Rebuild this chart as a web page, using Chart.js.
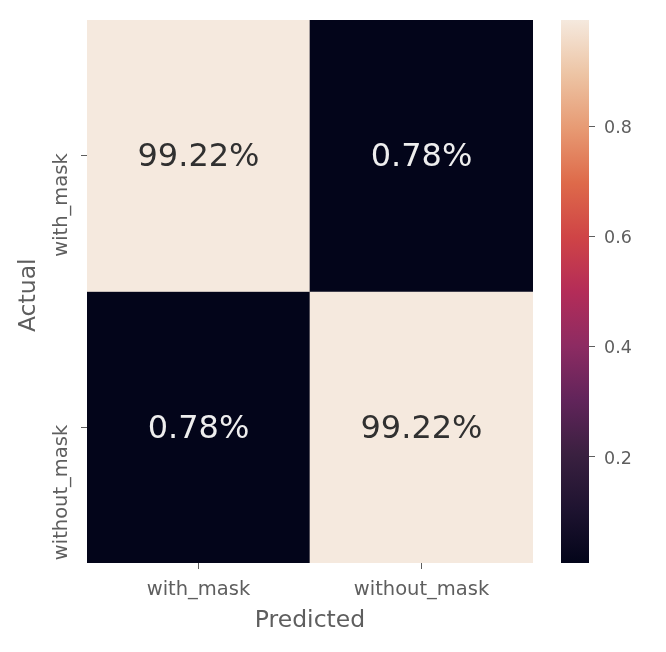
<!DOCTYPE html>
<html>
<head>
<meta charset="utf-8">
<script src="https://cdn.jsdelivr.net/npm/chart.js@4"></script>
<style>
html,body{margin:0;padding:0;background:#fff;width:666px;height:652px;overflow:hidden}
.w{position:absolute;left:0;top:0;width:666px;height:652px}
canvas{filter:blur(0.7px)}
</style>
</head>
<body>
<div class="w"><canvas id="main"></canvas></div>
<div class="w"><canvas id="bar"></canvas></div>
<script>
const predictedLabels = ['with_mask', 'without_mask'];
const actualLabels = ['with_mask', 'without_mask'];
const rowWithMask = [0.9922, 0.0078];
const rowWithoutMask = [0.0078, 0.9922];
const colorbarTicks = [0.2, 0.4, 0.6, 0.8];
const rocketStops = ['#03051a', '#1e1330', '#3a2040', '#61245a', '#8d2b62', '#b42c58', '#cf4446', '#de6a4a', '#e79a73', '#edc4a4', '#f5e9de'];

const rows = [rowWithMask, rowWithoutMask];
const vmin = Math.min(...rows.flat());
const vmax = Math.max(...rows.flat());
const hex = h => [1, 3, 5].map(i => parseInt(h.slice(i, i + 2), 16));
function rocket(v) {
  const t = Math.max(0, Math.min(1, (v - vmin) / (vmax - vmin))) * (rocketStops.length - 1);
  const i = Math.min(Math.floor(t), rocketStops.length - 2);
  const a = hex(rocketStops[i]), b = hex(rocketStops[i + 1]);
  return 'rgb(' + a.map((c, k) => Math.round(c + (b[k] - c) * (t - i))).join(',') + ')';
}
const GREY = '#5e5e5e';
const FF = '"DejaVu Sans"';

const annotate = {
  id: 'annotate',
  afterDatasetsDraw(chart) {
    const { ctx, scales: { x, y } } = chart;
    ctx.save();
    ctx.font = '32px ' + FF;
    ctx.textAlign = 'center';
    ctx.textBaseline = 'middle';
    rows.forEach((row, r) => row.forEach((v, c) => {
      ctx.fillStyle = v > 0.5 ? '#303030' : '#eeeeee';
      ctx.fillText((v * 100).toFixed(2) + '%', x.getPixelForValue(c), y.getPixelForValue(r + 0.5) + 2);
    }));
    ctx.restore();
  }
};

new Chart(document.getElementById('main'), {
  type: 'bar',
  data: {
    labels: predictedLabels,
    datasets: rows.map((row, r) => ({
      label: actualLabels[r],
      data: row.map(() => [r, r + 1]),
      backgroundColor: row.map(rocket),
      barPercentage: 1,
      categoryPercentage: 1,
      borderWidth: 0
    }))
  },
  plugins: [annotate],
  options: {
    responsive: true,
    maintainAspectRatio: false,
    animation: false,
    layout: { padding: { top: 20, right: 133, left: 0, bottom: 0 } },
    plugins: { legend: { display: false }, tooltip: { enabled: false } },
    scales: {
      x: {
        stacked: true,
        border: { display: false },
        grid: { display: true, offset: false, drawOnChartArea: false, color: GREY, tickLength: 6, tickWidth: 1 },
        ticks: { color: GREY, font: { family: FF, size: 19.5 }, padding: 9, maxRotation: 0, autoSkip: false },
        title: { display: true, text: 'Predicted', color: GREY, font: { family: FF, size: 23.5 }, padding: { top: 2, bottom: 17 } },
        afterFit(s) { s.height = 89; s.paddingLeft = 0; s.paddingRight = 0; }
      },
      y: {
        reverse: true,
        min: 0,
        max: 2,
        border: { display: false },
        grid: { display: true, drawOnChartArea: false, color: GREY, tickLength: 6, tickWidth: 1 },
        afterBuildTicks(s) { s.ticks = actualLabels.map((_, i) => ({ value: i + 0.5 })); },
        ticks: {
          color: GREY,
          font: { family: FF, size: 19.5 },
          padding: 19,
          labelOffset: -2.5,
          minRotation: 90,
          maxRotation: 90,
          autoSkip: false,
          callback: v => actualLabels[Math.floor(v)]
        },
        title: { display: true, text: 'Actual ', color: GREY, font: { family: FF, size: 23.5 }, padding: { top: 15, bottom: 0 } },
        afterFit(s) { s.width = 87; s.paddingTop = 0; s.paddingBottom = 0; }
      }
    }
  }
});

new Chart(document.getElementById('bar'), {
  type: 'bar',
  data: {
    labels: ['scale'],
    datasets: [{
      data: [[vmin, vmax]],
      barPercentage: 1,
      categoryPercentage: 1,
      borderWidth: 0,
      backgroundColor(ctx) {
        const area = ctx.chart.chartArea;
        if (!area) return rocketStops[0];
        const g = ctx.chart.ctx.createLinearGradient(0, area.bottom, 0, area.top);
        rocketStops.forEach((c, i) => g.addColorStop(i / (rocketStops.length - 1), c));
        return g;
      }
    }]
  },
  options: {
    responsive: true,
    maintainAspectRatio: false,
    animation: false,
    layout: { padding: { top: 20, left: 561, right: 0, bottom: 89 } },
    plugins: { legend: { display: false }, tooltip: { enabled: false } },
    scales: {
      x: { display: false },
      y: {
        position: 'right',
        min: vmin,
        max: vmax,
        border: { display: false },
        grid: { display: true, drawOnChartArea: false, color: GREY, tickLength: 6, tickWidth: 1 },
        afterBuildTicks(s) { s.ticks = colorbarTicks.map(value => ({ value })); },
        ticks: { color: GREY, font: { family: FF, size: 17.5 }, padding: 9, labelOffset: 2, callback: v => v.toFixed(1) },
        afterFit(s) { s.width = 77; s.paddingTop = 0; s.paddingBottom = 0; }
      }
    }
  }
});
</script>
</body>
</html>
